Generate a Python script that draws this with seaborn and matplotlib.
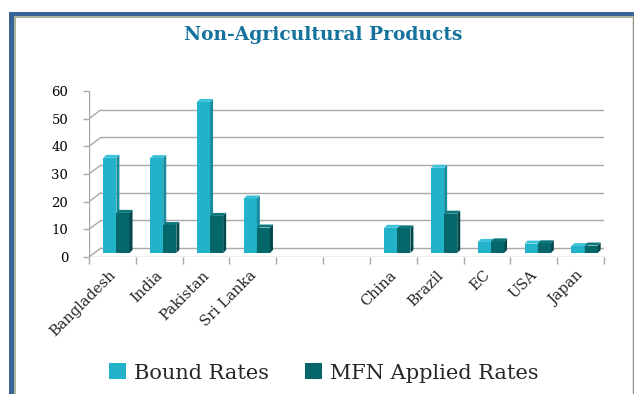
import numpy as np
import pandas as pd
import matplotlib
matplotlib.use("Agg")
import matplotlib.pyplot as plt
import seaborn as sns
from matplotlib.patches import Polygon, Rectangle
from matplotlib.lines import Line2D
from matplotlib.transforms import IdentityTransform, ScaledTranslation

# --- data -------------------------------------------------------------
countries = ["Bangladesh", "India", "Pakistan", "Sri Lanka",
             "China", "Brazil", "EC", "USA", "Japan"]
# two empty slots separate the South-Asian group from the comparators
order = ["Bangladesh", "India", "Pakistan", "Sri Lanka", " ", "  ",
         "China", "Brazil", "EC", "USA", "Japan"]
tick_labels = ["Bangladesh", "India", "Pakistan", "Sri Lanka", "", "",
               "China", "Brazil", "EC", "USA", "Japan"]
bound_rates = [34.4, 34.3, 54.6, 19.7, 9.1, 30.8, 4.0, 3.4, 2.5]
mfn_rates = [14.5, 10.1, 13.4, 9.2, 8.9, 14.2, 4.2, 3.5, 2.7]
series = ["Bound Rates", "MFN Applied Rates"]
y_ticks = [0, 10, 20, 30, 40, 50, 60]

df = pd.DataFrame({
    "country": countries * 2,
    "series": [series[0]] * len(countries) + [series[1]] * len(countries),
    "value": bound_rates + mfn_rates,
})

# --- style ------------------------------------------------------------
FRONT = ["#22b3cb", "#06676b"]
SIDE = ["#178a9e", "#03494c"]
TOP = ["#3cc2d8", "#0b777c"]
GRID = "#a8a8a8"
SERIF = ["DejaVu Serif"]

W, H, DPI = 634, 394, 100
sns.set_style("white")
plt.rcParams["font.family"] = SERIF

fig = plt.figure(figsize=(W / DPI, H / DPI), dpi=DPI)

# front plane of the 3-D box, in pixels
x_left, x_right = 89, 604
y_zero, y_top = 257, 91
ax = fig.add_axes([x_left / W, 1 - y_zero / H,
                   (x_right - x_left) / W, (y_zero - y_top) / H])
ax.patch.set_alpha(0)

sns.barplot(data=df, x="country", y="value", hue="series",
            order=order, hue_order=series, palette=FRONT,
            saturation=1, width=0.56, gap=0, legend=False,
            ax=ax, zorder=3)

ax.set_xlim(-0.5, len(order) - 0.5)
ax.set_ylim(0, 60)
for s in ax.spines.values():
    s.set_visible(False)
ax.set_xlabel("")
ax.set_ylabel("")

# depth offsets (pixels)
bar_dx, bar_dy = 4, 4        # bars sit half-way into the box
face_dx, face_dy = 3, 3      # visible depth of each bar
wall_dx, wall_dy = 12, 9     # back wall

px = IdentityTransform()
fig.canvas.draw()
to_disp = ax.transData.transform

# --- box: back-wall grid, floor, front axis ---------------------------
for yv in y_ticks:
    xa, ya = to_disp((-0.5, yv))
    xb, yb = to_disp((len(order) - 0.5, yv))
    ax.add_line(Line2D([xa + wall_dx, xb + wall_dx], [ya + wall_dy, yb + wall_dy],
                       transform=px, color=GRID, lw=1.0, zorder=1))
    ax.add_line(Line2D([xa, xa + wall_dx], [ya, ya + wall_dy],
                       transform=px, color=GRID, lw=1.0, zorder=1))
x0d, y0d = to_disp((-0.5, 0))
x1d, y1d = to_disp((len(order) - 0.5, 0))
_, ytd = to_disp((-0.5, 60))
ax.add_line(Line2D([x0d, x1d], [y0d, y1d], transform=px, color=GRID,
                   lw=1.0, zorder=1))
ax.add_line(Line2D([x1d, x1d + wall_dx], [y1d, y1d + wall_dy], transform=px,
                   color=GRID, lw=1.0, zorder=1))
ax.add_line(Line2D([x0d, x0d], [y0d, ytd], transform=px, color=GRID,
                   lw=1.0, zorder=1))

# --- 3-D faces for each bar -------------------------------------------
bars = [p for p in ax.patches if isinstance(p, Rectangle)]
shift = ScaledTranslation(bar_dx / DPI, bar_dy / DPI, fig.dpi_scale_trans)
for p in bars:
    h = p.get_height()
    if not np.isfinite(h) or h <= 0:
        continue
    k = 0 if p.get_facecolor()[:3] == matplotlib.colors.to_rgb(FRONT[0]) else 1
    z = 3 + 2 * p.get_x() / 100 + 0.5 * k
    p.set_transform(ax.transData + shift)
    p.set_edgecolor("none")
    p.set_zorder(z)
    (xa, ya) = to_disp((p.get_x(), 0))
    (xb, yb) = to_disp((p.get_x() + p.get_width(), h))
    xa += bar_dx; xb += bar_dx; ya += bar_dy; yb += bar_dy
    side = [(xb, ya), (xb, yb), (xb + face_dx, yb + face_dy), (xb + face_dx, ya + face_dy)]
    top = [(xa, yb), (xb, yb), (xb + face_dx, yb + face_dy), (xa + face_dx, yb + face_dy)]
    ax.add_patch(Polygon(side, closed=True, transform=px, facecolor=SIDE[k],
                         edgecolor="none", zorder=z + 0.01))
    ax.add_patch(Polygon(top, closed=True, transform=px, facecolor=TOP[k],
                         edgecolor="none", zorder=z + 0.01))

# --- ticks and labels -------------------------------------------------
ax.set_yticks(y_ticks)
ax.set_yticklabels([str(v) for v in y_ticks])
ax.tick_params(axis="y", which="major", left=True, length=4, width=1,
               color=GRID, pad=11, labelsize=9.5, labelcolor="black")
ax.set_xticks(range(len(order)))
ax.set_xticklabels(tick_labels, rotation=45, ha="right",
                   rotation_mode="anchor", fontsize=10.5)
ax.set_xticks(np.arange(-0.5, len(order), 1), minor=True)
ax.tick_params(axis="x", which="major", bottom=False, length=0, pad=8)
ax.tick_params(axis="x", which="minor", bottom=True, length=5, width=1,
               color=GRID)
lab_shift = ScaledTranslation(-4 / DPI, 0, fig.dpi_scale_trans)
for t in ax.get_xticklabels():
    t.set_transform(t.get_transform() + lab_shift)

# --- title ------------------------------------------------------------
fig.text(323 / W, 1 - 35 / H, "Non-Agricultural Products", ha="center",
         va="center", fontsize=13.4, fontweight="bold", color="#15729c")

# --- legend -----------------------------------------------------------
handles = [Rectangle((0, 0), 1, 1, facecolor=c, edgecolor="none") for c in FRONT]
fig.legend(handles, series, loc="center", bbox_to_anchor=(324 / W, 1 - 373 / H),
           ncol=2, frameon=False, fontsize=15, handlelength=0.8,
           handleheight=0.8, handletextpad=0.4, columnspacing=1.7)

# --- outer frame ------------------------------------------------------
ft = fig.transFigure
fig.add_artist(Rectangle((9 / W, 0), 5 / W, 1 - 12 / H, transform=ft,
                         facecolor="#3a6496", edgecolor="none"))
fig.add_artist(Rectangle((9 / W, 1 - 16 / H), 1, 4 / H, transform=ft,
                         facecolor="#3a6496", edgecolor="none"))
fig.add_artist(Line2D([14.5 / W, 14.5 / W], [0, 1 - 16.5 / H], transform=ft,
                      color="#9aa889", lw=1.2))
fig.add_artist(Line2D([14.5 / W, 1], [1 - 16.5 / H, 1 - 16.5 / H], transform=ft,
                      color="#9aa889", lw=1.2))
fig.add_artist(Line2D([632.5 / W, 632.5 / W], [0, 1 - 16.5 / H], transform=ft,
                      color="#8a9080", lw=1.0))

fig.savefig("out.png", dpi=DPI)
